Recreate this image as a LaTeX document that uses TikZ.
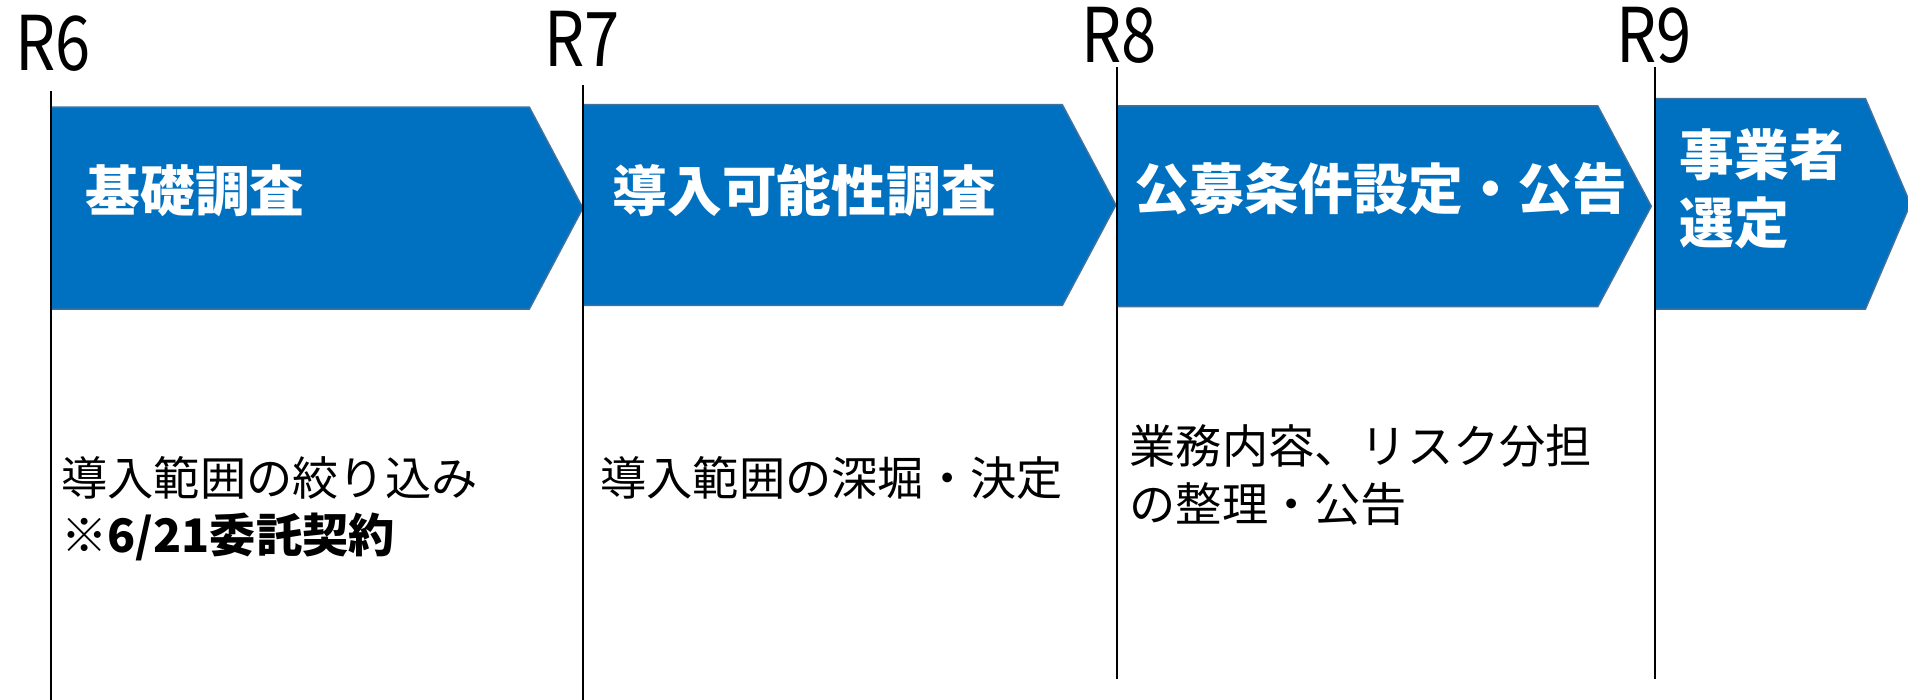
\documentclass[tikz,border=0pt]{standalone}
\usepackage{fontspec}
\setmainfont{Noto Sans CJK JP}
\newfontfamily\yearfont[FakeStretch=0.84]{Noto Sans CJK JP}
\definecolor{chevfill}{HTML}{0070C0}
\definecolor{chevline}{HTML}{41719C}
\begin{document}
\begin{tikzpicture}[x=0.5pt,y=-0.5pt,
  chev/.style={fill=chevfill,draw=chevline,line width=0.6pt},
  title/.style={text=white,font=\bfseries\fontsize{22.5}{28}\selectfont,anchor=west,inner sep=0pt,align=left},
  body/.style={font=\fontsize{19}{23.5}\selectfont,anchor=west,inner sep=0pt,align=left},
  yr/.style={font=\yearfont\fontsize{31}{34}\selectfont,anchor=base west,inner sep=0pt,text height=0.74em,text depth=0pt},
  tick/.style={line width=1pt}]
\useasboundingbox (0,0) rectangle (1568,575);
% chevrons
\path[chev] (42,88) -- (435,88) -- (479,171) -- (435,254) -- (42,254) -- cycle;
\path[chev] (479,86) -- (873,86) -- (917,168.5) -- (873,251) -- (479,251) -- cycle;
\path[chev] (918,87) -- (1313,87) -- (1357,169.5) -- (1313,252) -- (918,252) -- cycle;
\path[chev] (1360,81) -- (1533,81) -- (1570,167.5) -- (1533,254) -- (1360,254) -- cycle;
% titles
\node[title] (c1) at (70,157) {基礎調査};
\node[title] (c2) at (503,157) {導入可能性調査};
\node[title] (c3) at (932,155) {公募条件設定・公告};
\node[title] (c4) at (1380,155) {事業者\\選定};
% year labels
\node[yr] (r6) at (12,58) {R6};
\node[yr] (r7) at (447,55) {R7};
\node[yr] (r8) at (888,51) {R8};
\node[yr] (r9) at (1328,51) {R9};
% year lines
\coordinate (t6) at (42,75);   \coordinate (b6) at (42,575);
\coordinate (t7) at (479,70);  \coordinate (b7) at (479,575);
\coordinate (t8) at (918,55);  \coordinate (b8) at (918,558);
\coordinate (t9) at (1360,55); \coordinate (b9) at (1360,558);
\draw[tick] (t6) -- (b6);
\draw[tick] (t7) -- (b7);
\draw[tick] (t8) -- (b8);
\draw[tick] (t9) -- (b9);
% descriptions
\node[body] (d1) at (50,418) {導入範囲の絞り込み\\{\bfseries ※6/21委託契約}};
\node[body] (d2) at (493,393) {導入範囲の深堀・決定};
\node[body] (d3) at (928,390.5) {業務内容、リスク分担\\の整理・公告};
\end{tikzpicture}
\end{document}
